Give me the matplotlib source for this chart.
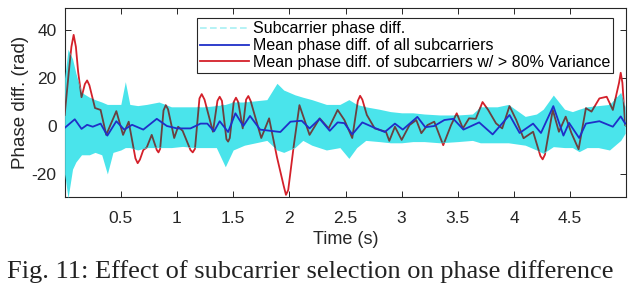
import matplotlib
matplotlib.use("Agg")
import matplotlib.pyplot as plt
from matplotlib.lines import Line2D

# ---- data ----
red_t = [0.0, 0.037, 0.06, 0.08, 0.10, 0.12, 0.15, 0.18, 0.2, 0.22, 0.27, 0.32, 0.37, 0.46, 0.52,
         0.57, 0.63, 0.65, 0.67, 0.70, 0.73, 0.775, 0.82, 0.835, 0.85, 0.88, 0.90, 0.92, 0.975,
         1.01, 1.05, 1.12, 1.14, 1.16, 1.20, 1.22, 1.245, 1.32, 1.36, 1.38, 1.40, 1.44, 1.455,
         1.47, 1.505, 1.525, 1.545, 1.585, 1.615, 1.635, 1.655, 1.75, 1.82, 1.89, 1.95, 1.97,
         1.99, 2.04, 2.09, 2.18, 2.27, 2.35, 2.43, 2.49, 2.56, 2.61, 2.63, 2.65, 2.69, 2.76,
         2.86, 2.89, 2.94, 3.0, 3.07, 3.13, 3.175, 3.23, 3.29, 3.37, 3.44, 3.49, 3.545, 3.60,
         3.66, 3.72, 3.77, 3.84, 3.895, 3.96, 4.02, 4.085, 4.17, 4.235, 4.255, 4.275, 4.345,
         4.40, 4.46, 4.51, 4.575, 4.64, 4.69, 4.76, 4.825, 4.88, 4.935, 4.95, 4.965, 4.99]
red_v = [4.6, 22.6, 33, 38, 33, 22.6, 12, 17.5, 19, 17, 7.5, 6.7, -3.7, 6.2, -3.7,
         1.8, -13.5, -15.5, -14, -10, -9, -3.7, -10, -11, -9.5, 6.5, 8.7, 7, -5,
         -0.3, -2, -10, -11, -9.5, 11.5, 13.3, 11, -2.4, 10.5, 12.2, 10.5, -5.5, -6.5,
         -5, 10, 11.8, 10, -1, 11, 12.5, 10.5, -5, 3.2, -13, -25, -28.7,
         -26.7, -8, 8.7, -3.7, 3.2, -1, 6.7, 2.5, -5, 10.5, 12.6, 11, 4.6, -1,
         -2.4, -6.2, -0.3, -5.8, 0.4, 2.5, -3, 0.4, 1.8, -8, 0.4, 5.3, -1, 3.2,
         3, 10, 6.7, 1.1, -1, 8.3, 2.5, -5.1, -2.4, -12.5, -13.9, -12, 6.7,
         -2.4, 3.9, -2.8, -9.7, 7.4, 6, 11.5, 12.2, 6.7, 18, 22.2, 18, 0.4]

blue_t = [0.0, 0.09, 0.15, 0.2, 0.25, 0.32, 0.38, 0.46, 0.53, 0.6, 0.7, 0.82, 0.91, 1.0, 1.12,
          1.21, 1.27, 1.33, 1.38, 1.455, 1.52, 1.59, 1.65, 1.74, 1.92, 2.01, 2.11, 2.18, 2.27,
          2.36, 2.43, 2.49, 2.56, 2.65, 2.76, 2.85, 2.94, 3.01, 3.14, 3.21, 3.29, 3.38, 3.46,
          3.55, 3.69, 3.81, 3.96, 4.05, 4.17, 4.24, 4.35, 4.44, 4.49, 4.58, 4.64, 4.76, 4.88,
          4.95, 4.99]
blue_v = [-0.8, 2.8, -1.2, 0.5, -0.3, 1, -4, 2, -1.5, 0.5, -1.5, 3, 0, -1, -1,
          1, 1, -2.2, 2, -2.5, 5.3, 0, 4.2, -1.5, -2.5, 1.8, 2.2, -1, 3,
          -2, 1.5, 1.2, -3.5, 1.5, -0.8, -2.5, 1, -1.5, 3.8, -0.5, 0, 2.5, 3,
          -1.5, 1.5, -3.5, 4.6, -2.9, 1, -2.9, 8.3, -4, 1.3, -5, 1, 2, -0.3,
          4, 1]

band_t = [0.0, 0.03, 0.07, 0.10, 0.15, 0.22, 0.27, 0.33, 0.38, 0.43, 0.50, 0.54, 0.58, 0.65,
          0.73, 0.84, 0.95, 1.05, 1.15, 1.25, 1.35, 1.43, 1.50, 1.6, 1.7, 1.8, 1.89, 1.95,
          2.05, 2.12, 2.2, 2.33, 2.45, 2.53, 2.6, 2.68, 2.8, 2.9, 3.0, 3.1, 3.2, 3.34, 3.5,
          3.63, 3.7, 3.85, 3.95, 4.1, 4.2, 4.26, 4.35, 4.45, 4.52, 4.58, 4.65, 4.75, 4.85,
          4.95, 4.99]
band_hi = [20, 32, 28, 22, 14, 12, 11, 10, 9, 9, 9, 18.5, 9, 8.5,
           9, 10, 8, 8, 8, 8, 8.5, 9, 10, 10, 10.5, 11, 17.8, 15,
           13, 12, 11, 9, 9, 11, 9, 8, 7, 6, 5.5, 5.5, 5, 4.6, 4.6,
           5, 8, 8, 9, 4, 5, 7, 12.9, 7, 6, 7, 8, 8.5, 9,
           14, 8]
band_lo = [-20, -30, -18, -15, -12, -12, -11, -12, -20, -11, -10, -9, -9, -10,
           -9, -9, -9, -8.5, -9, -9, -9, -17, -10, -8, -7, -6, -10, -11,
           -9, -6, -8, -10, -9, -13.5, -9, -6, -6.5, -7, -7, -6.5, -6.5, -7, -6.5,
           -6, -7, -7, -7, -8, -10, -11.4, -8.6, -9, -9, -10.7, -9, -9, -10,
           -6, -3]

x_ticks = [0.5, 1, 1.5, 2, 2.5, 3, 3.5, 4, 4.5]
x_ticklabels = ["0.5", "1", "1.5", "2", "2.5", "3", "3.5", "4", "4.5"]
y_ticks = [-20, 0, 20, 40]
y_ticklabels = ["-20", "0", "20", "40"]
legend_labels = ["Subcarrier phase diff.",
                 "Mean phase diff. of all subcarriers",
                 "Mean phase diff. of subcarriers w/ > 80% Variance"]

# ---- figure ----
plt.rcParams['font.family'] = ['Liberation Sans', 'DejaVu Sans']
fig = plt.figure(figsize=(6.4, 2.84), dpi=100)
ax = fig.add_axes([65/640, 1-197/284, 561/640, 189/284])

cyan = '#4ae4eb'
red = '#d4202a'
blue = '#1f2fc8'

ax.plot(red_t, red_v, color=red, lw=1.3, zorder=2)
band = ax.fill_between(band_t, band_lo, band_hi, color=cyan, lw=0, zorder=3)
dark = ax.plot(red_t, red_v, color='#6a4040', lw=1.3, zorder=4)[0]
dark.set_clip_path(band.get_paths()[0], transform=ax.transData)
ax.plot(blue_t, blue_v, color=blue, lw=1.3, zorder=5)

ax.set_xlim(0.003, 4.997)
ax.set_ylim(-29.6, 49.2)
ax.set_xticks(x_ticks)
ax.set_xticklabels(x_ticklabels)
ax.set_yticks(y_ticks)
ax.set_yticklabels(y_ticklabels)
ax.tick_params(direction='in', length=4, width=0.7, top=True, right=True,
               labelsize=12.5, colors='#262626')
ax.tick_params(axis='x', pad=10)
ax.tick_params(axis='y', pad=6)
for s in ax.spines.values():
    s.set_linewidth(0.8)
    s.set_color('#262626')
ax.set_xlabel("Time (s)", fontsize=13, color='#262626', labelpad=4)
ax.set_ylabel("Phase diff. (rad)", fontsize=13.5, color='#262626', labelpad=2)

handles = [Line2D([], [], color='#a8f0f3', lw=1.2, ls=(0, (4, 2))),
           Line2D([], [], color=blue, lw=1.3),
           Line2D([], [], color=red, lw=1.3)]
leg = ax.legend(handles, legend_labels, loc='upper right', bbox_to_anchor=(0.977, 0.947),
                borderaxespad=0, fontsize=11.5, frameon=True, fancybox=False,
                edgecolor='#262626', framealpha=1, handlelength=3.1, handletextpad=0.2,
                labelspacing=0.12, borderpad=0.2)
leg.get_frame().set_linewidth(0.8)
leg.set_zorder(10)

fig.text(7/640, 1/284, "Fig. 11: Effect of subcarrier selection on phase difference",
         family=['Liberation Serif', 'DejaVu Serif'], fontsize=19, va='bottom', ha='left',
         color='#222222')

fig.savefig("out.png", dpi=100)
